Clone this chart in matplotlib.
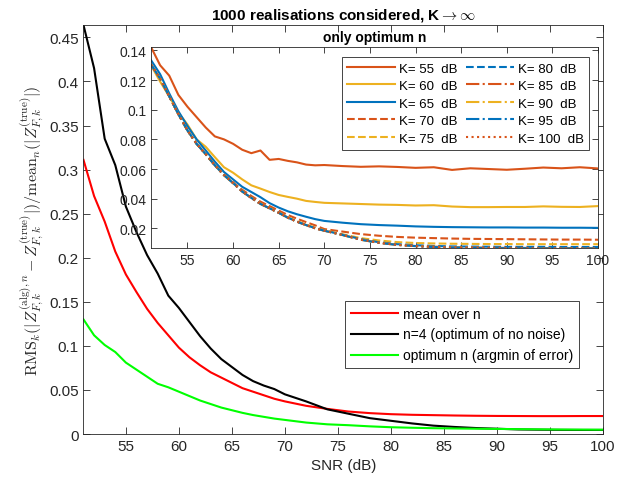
import numpy as np
import matplotlib.pyplot as plt

plt.rcParams['font.family'] = ['Liberation Sans', 'DejaVu Sans']
plt.rcParams['mathtext.fontset'] = 'cm'

# SNR grid (dB)
snr = [51, 52, 53, 54, 55, 56, 57, 58, 59, 60, 61, 62, 63, 64, 65, 66, 67, 68, 69, 70,
       72, 74, 76, 78, 80, 82, 84, 86, 88, 90, 92, 94, 96, 98, 100]

# main plot, K -> infinity
mean_over_n = [0.311, 0.270, 0.241, 0.207, 0.181, 0.161, 0.142, 0.126, 0.112, 0.098,
               0.087, 0.078, 0.070, 0.064, 0.058, 0.052, 0.048, 0.044, 0.040, 0.037,
               0.032, 0.0285, 0.0255, 0.0237, 0.0225, 0.0218, 0.0214, 0.021, 0.0207, 0.0205,
               0.0204, 0.0203, 0.0203, 0.0204, 0.0204]
n4 = [0.464, 0.415, 0.335, 0.305, 0.258, 0.229, 0.203, 0.182, 0.157, 0.143,
      0.127, 0.111, 0.097, 0.085, 0.076, 0.067, 0.060, 0.055, 0.051, 0.045,
      0.037, 0.028, 0.023, 0.018, 0.015, 0.012, 0.0095, 0.008, 0.0068, 0.006,
      0.0052, 0.0049, 0.0047, 0.0046, 0.0046]
opt_n = [0.130, 0.112, 0.101, 0.093, 0.081, 0.073, 0.065, 0.057, 0.053, 0.048,
         0.043, 0.038, 0.034, 0.030, 0.027, 0.024, 0.0215, 0.0195, 0.0175, 0.016,
         0.013, 0.011, 0.0100, 0.0087, 0.0077, 0.0071, 0.0066, 0.0063, 0.006, 0.0058,
         0.0055, 0.0053, 0.0051, 0.005, 0.0049]

# inset, only optimum n, finite K
k_labels = ['K= 55  dB', 'K= 60  dB', 'K= 65  dB', 'K= 70  dB', 'K= 75  dB',
            'K= 80  dB', 'K= 85  dB', 'K= 90  dB', 'K= 95  dB', 'K= 100  dB']
k55 = [0.1423, 0.130, 0.123, 0.110, 0.102, 0.095, 0.088, 0.082, 0.080, 0.077,
       0.073, 0.0707, 0.0725, 0.0662, 0.0668, 0.0655, 0.0645, 0.063, 0.0625, 0.0627,
       0.062, 0.0615, 0.0618, 0.0614, 0.0608, 0.0612, 0.0594, 0.0605, 0.060, 0.0595,
       0.0602, 0.061, 0.0605, 0.0612, 0.0604]
k60 = [0.130, 0.119, 0.109, 0.098, 0.090, 0.080, 0.075, 0.068, 0.0612, 0.0575,
       0.053, 0.049, 0.0468, 0.0445, 0.0425, 0.0412, 0.040, 0.0385, 0.0378, 0.0372,
       0.0368, 0.0364, 0.036, 0.0358, 0.0354, 0.0356, 0.0347, 0.0343, 0.0343, 0.0344,
       0.0344, 0.0348, 0.0345, 0.0344, 0.0350]
k65 = [0.1335, 0.124, 0.111, 0.099, 0.089, 0.080, 0.0725, 0.065, 0.058, 0.053,
       0.048, 0.0445, 0.041, 0.037, 0.034, 0.0315, 0.0295, 0.0278, 0.0262, 0.025,
       0.0238, 0.0228, 0.0222, 0.0218, 0.0213, 0.021, 0.0208, 0.0207, 0.0206, 0.0206,
       0.0205, 0.0205, 0.0204, 0.0204, 0.0203]
k70 = [0.1305, 0.121, 0.109, 0.097, 0.086, 0.077, 0.070, 0.0628, 0.0563, 0.051,
       0.046, 0.0418, 0.038, 0.035, 0.032, 0.029, 0.0265, 0.0242, 0.022, 0.0195,
       0.0178, 0.0161, 0.015, 0.0142, 0.0137, 0.0134, 0.0131, 0.0129, 0.0128, 0.0127,
       0.0126, 0.0125, 0.0124, 0.0124, 0.0123]
k75 = [0.1305, 0.121, 0.109, 0.097, 0.086, 0.077, 0.070, 0.0625, 0.0559, 0.0505,
       0.0452, 0.0407, 0.0367, 0.0337, 0.0307, 0.0275, 0.0248, 0.0225, 0.0204, 0.0187,
       0.0160, 0.0134, 0.0118, 0.0107, 0.0101, 0.0098, 0.0096, 0.0095, 0.0094, 0.0094,
       0.0093, 0.0093, 0.0093, 0.0093, 0.0093]
k80 = [0.1305, 0.121, 0.109, 0.097, 0.086, 0.077, 0.070, 0.0625, 0.0559, 0.0505,
       0.045, 0.0405, 0.0365, 0.0335, 0.0305, 0.0272, 0.0245, 0.0222, 0.0201, 0.0185,
       0.0157, 0.0127, 0.0106, 0.0093, 0.0086, 0.0081, 0.0078, 0.0077, 0.0076, 0.0075,
       0.0075, 0.0075, 0.0074, 0.0074, 0.0074]
k85 = [0.1305, 0.121, 0.109, 0.097, 0.086, 0.077, 0.070, 0.0625, 0.0559, 0.0505,
       0.0448, 0.0405, 0.0365, 0.0335, 0.0305, 0.0272, 0.0245, 0.0222, 0.0200, 0.0184,
       0.0155, 0.0124, 0.0103, 0.0089, 0.0081, 0.0076, 0.0073, 0.0071, 0.0069, 0.0068,
       0.0068, 0.0067, 0.0067, 0.0067, 0.0067]
k90 = [0.1305, 0.121, 0.109, 0.097, 0.086, 0.077, 0.070, 0.0625, 0.0559, 0.0505,
       0.0448, 0.0405, 0.0365, 0.0335, 0.0305, 0.0272, 0.0245, 0.0222, 0.0200, 0.0184,
       0.0155, 0.0123, 0.0102, 0.0088, 0.0080, 0.0075, 0.0071, 0.0069, 0.0068, 0.0067,
       0.0066, 0.0066, 0.0066, 0.0065, 0.0065]
k95 = [0.1305, 0.121, 0.109, 0.097, 0.086, 0.077, 0.070, 0.0625, 0.0559, 0.0505,
       0.0448, 0.0405, 0.0365, 0.0335, 0.0305, 0.0272, 0.0245, 0.0222, 0.0200, 0.0184,
       0.0155, 0.0123, 0.0102, 0.0088, 0.0080, 0.0074, 0.0071, 0.0069, 0.0067, 0.0066,
       0.0066, 0.0065, 0.0065, 0.0065, 0.0065]
k100 = [0.1305, 0.121, 0.109, 0.097, 0.086, 0.077, 0.070, 0.0625, 0.0559, 0.0505,
        0.0448, 0.0405, 0.0365, 0.0335, 0.0305, 0.0272, 0.0245, 0.0222, 0.0200, 0.0184,
        0.0155, 0.0123, 0.0102, 0.0088, 0.0080, 0.0074, 0.0071, 0.0069, 0.0067, 0.0066,
        0.0066, 0.0065, 0.0065, 0.0065, 0.0064]
k_series = [k55, k60, k65, k70, k75, k80, k85, k90, k95, k100]

orange = (0.85, 0.325, 0.098)
yellow = (0.929, 0.694, 0.125)
blue = (0.0, 0.447, 0.741)
k_colors = [orange, yellow, blue, orange, yellow, blue, orange, yellow, blue, orange]
k_styles = ['-', '-', '-', '--', '--', '--', '-.', '-.', '-.', ':']

axcol = '#262626'

fig = plt.figure(figsize=(6.31, 4.89), dpi=100)
ax = fig.add_axes([0.1323, 0.1104, 0.8233, 0.8364])

ax.plot(snr, mean_over_n, color='r', lw=1.5, label='mean over n')
ax.plot(snr, n4, color='k', lw=1.5, label='n=4 (optimum of no noise)')
ax.plot(snr, opt_n, color=(0, 1, 0), lw=1.5, label='optimum n (argmin of error)')

ax.set_xlim(51, 100)
ax.set_ylim(0, max(n4))
ax.set_xticks(np.arange(55, 101, 5))
ax.set_yticks(np.arange(0, 0.46, 0.05))
ax.set_yticklabels(['0', '0.05', '0.1', '0.15', '0.2', '0.25', '0.3', '0.35', '0.4', '0.45'])
ax.tick_params(direction='in', top=True, right=True, labelsize=11, colors=axcol,
               length=5, width=0.6)
for s in ax.spines.values():
    s.set_color(axcol)
    s.set_linewidth(0.6)
ax.set_xlabel('SNR (dB)', fontsize=11, color=axcol, labelpad=4)
ax.set_ylabel(r'$\mathrm{RMS}_k(|Z^{(\mathrm{alg}),n}_{F,k}-Z^{(\mathrm{true})}_{F,k}|)'
              r'/\mathrm{mean}_n(|Z^{(\mathrm{true})}_{F,k}|)$',
              fontsize=11.5, color=axcol, labelpad=2)
ax.set_title(r'1000 realisations considered, K$\rightarrow\infty$', fontsize=11,
             fontweight='bold', pad=5)

leg = ax.legend(loc='upper left', bbox_to_anchor=(345 / 631, 1 - 302 / 489),
                bbox_transform=fig.transFigure, fontsize=10, handlelength=3.4,
                handletextpad=0.4, borderpad=0.4, labelspacing=0.5,
                fancybox=False, framealpha=1, borderaxespad=0)
leg.get_frame().set_edgecolor(axcol)
leg.get_frame().set_linewidth(0.6)

# inset
ins = fig.add_axes([0.2393, 0.4898, 0.7084, 0.412])
for vals, lab, c, ls in zip(k_series, k_labels, k_colors, k_styles):
    ins.plot(snr, vals, color=c, ls=ls, lw=1.5, label=lab)
ins.set_xlim(51, 100)
all_k = np.concatenate([np.asarray(v) for v in k_series])
ins.set_ylim(all_k.min(), all_k.max())
ins.set_xticks(np.arange(55, 101, 5))
ins.set_yticks(np.arange(0.02, 0.141, 0.02))
ins.set_yticklabels(['0.02', '0.04', '0.06', '0.08', '0.1', '0.12', '0.14'])
ins.tick_params(direction='in', top=True, right=True, labelsize=10, colors=axcol,
                length=4, width=0.6)
for s in ins.spines.values():
    s.set_color(axcol)
    s.set_linewidth(0.6)
ins.set_title('only optimum n', fontsize=10, fontweight='bold', pad=4)

leg2 = ins.legend(loc='upper left', bbox_to_anchor=(342 / 631, 1 - 58 / 489),
                  bbox_transform=fig.transFigure, ncol=2, fontsize=9.5, handlelength=3.6,
                  handletextpad=0.3, borderpad=0.4, labelspacing=0.4, columnspacing=0.7,
                  fancybox=False, framealpha=1, borderaxespad=0)
leg2.get_frame().set_edgecolor(axcol)
leg2.get_frame().set_linewidth(0.6)

fig.savefig('out.png', dpi=100)
